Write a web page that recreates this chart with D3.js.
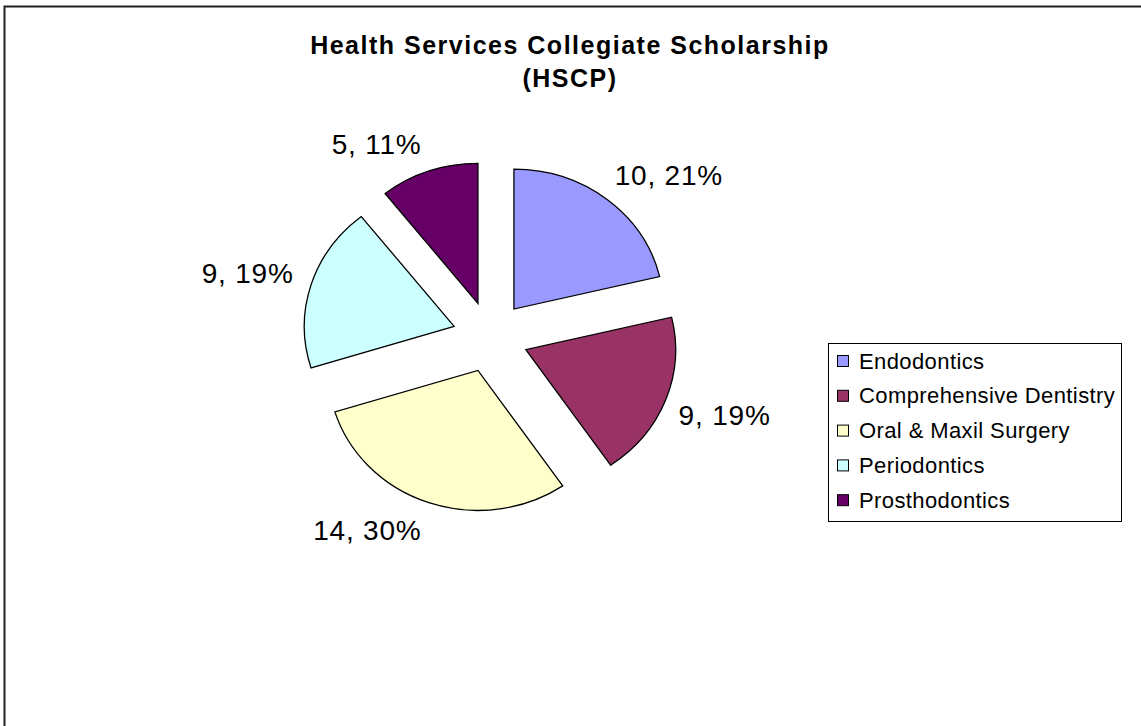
<!DOCTYPE html>
<html>
<head>
<meta charset="utf-8">
<script src="https://cdn.jsdelivr.net/npm/d3@7"></script>
<style>
  body { margin: 0; background: #fff; }
  svg { display: block; }
  text { font-family: Arial, "Liberation Sans", sans-serif; fill: #000; }
</style>
</head>
<body>
<svg id="chart" width="1141" height="726"></svg>
<script>
// Scholarship counts by dental specialty
const categories = ["Endodontics", "Comprehensive Dentistry", "Oral & Maxil Surgery", "Periodontics", "Prosthodontics"];
const counts = [10, 9, 14, 9, 5];
const colors = ["#9999FF", "#993366", "#FFFFCC", "#CCFFFF", "#660066"];
const titleLines = ["Health Services Collegiate Scholarship", "(HSCP)"];

const W = 1141, H = 726;
const svg = d3.select("#chart");

// chart frame (top and left edges)
svg.append("path")
  .attr("d", `M4.5,${H} V6.5 H${W}`)
  .attr("fill", "none")
  .attr("stroke", "#222")
  .attr("stroke-width", 2);

// title
const title = svg.append("text")
  .attr("text-anchor", "middle")
  .style("font-weight", "bold")
  .style("font-size", "25px")
  .style("letter-spacing", "1.5px");
titleLines.forEach((line, i) => {
  title.append("tspan")
    .attr("x", 570)
    .attr("y", 54 + i * 33)
    .text(line);
});

// exploded pie
const cx = 490.4, cy = 336.9, r = 140, explode = 35.5, sx = 1.07;
const total = d3.sum(counts);
const pct = d3.format(".0%");

const pie = d3.pie().sort(null).value(d => d)(counts);
const arc = d3.arc().innerRadius(0).outerRadius(r);

const pieG = svg.append("g").attr("transform", `translate(${cx},${cy}) scale(${sx},1)`);
pieG.selectAll("path")
  .data(pie)
  .join("path")
  .attr("transform", d => {
    const m = (d.startAngle + d.endAngle) / 2;
    return `translate(${explode * Math.sin(m)},${-explode * Math.cos(m)})`;
  })
  .attr("d", arc)
  .attr("fill", (d, i) => colors[i])
  .attr("stroke", "#000")
  .attr("stroke-width", 1.3)
  .attr("stroke-linejoin", "miter")
  .attr("vector-effect", "non-scaling-stroke");

// data labels: "count, percent" placed just outside each slice
const labelFont = 28, labelR = 155;
const labels = svg.append("g");
pie.forEach((d, i) => {
  const m = (d.startAngle + d.endAngle) / 2;
  const s = Math.sin(m), c = -Math.cos(m);
  const t = labels.append("text")
    .style("font-size", labelFont + "px")
    .style("letter-spacing", "0.8px")
    .attr("text-anchor", "middle")
    .text(`${d.data}, ${pct(d.data / total)}`);
  const w = t.node().getComputedTextLength();
  const h = labelFont * 0.9;
  const ax = cx + sx * (explode + labelR) * s;
  const ay = cy + (explode + labelR) * c;
  const dx = Math.sign(s) * w / 2;
  const dy = (Math.abs(c) > 0.5 ? Math.sign(c) : c / 0.5) * h / 2;
  t.attr("x", ax + dx - 2)
   .attr("y", ay + dy + labelFont * 0.36);
});

// legend
const lg = svg.append("g");
const lx = 828, ly = 343, lw = 293, lh = 178, rowH = 34.8;
lg.append("rect")
  .attr("x", lx + 0.5).attr("y", ly + 0.5)
  .attr("width", lw).attr("height", lh)
  .attr("fill", "#fff").attr("stroke", "#000").attr("stroke-width", 1);
const rows = lg.selectAll("g.row")
  .data(categories)
  .join("g")
  .attr("class", "row")
  .attr("transform", (d, i) => `translate(${lx}, ${ly + 18 + i * rowH})`);
rows.append("rect")
  .attr("x", 9.5).attr("y", -5.5)
  .attr("width", 11).attr("height", 11)
  .attr("fill", (d, i) => colors[i])
  .attr("stroke", "#000").attr("stroke-width", 1);
rows.append("text")
  .attr("x", 31)
  .attr("y", 7.5)
  .style("font-size", "22px")
  .style("letter-spacing", "0.4px")
  .text(d => d);
</script>
</body>
</html>
